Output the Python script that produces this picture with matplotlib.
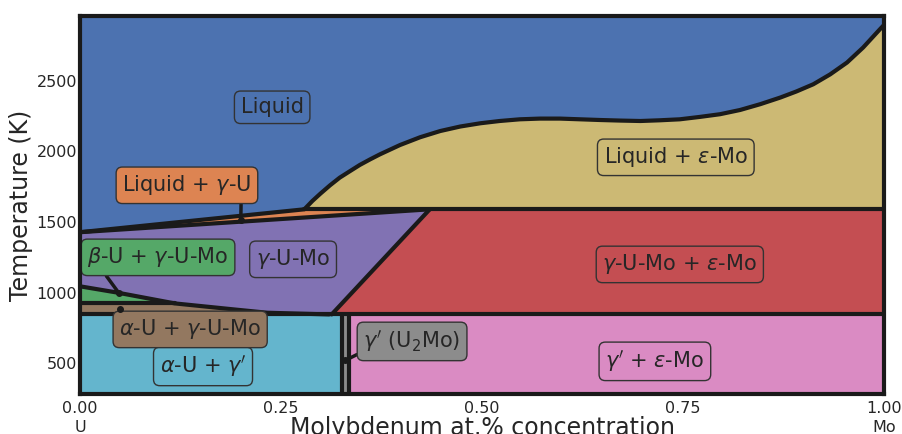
import matplotlib
matplotlib.use("Agg")
import matplotlib.pyplot as plt

# ---------------- data ----------------
# liquidus (Liquid / Liquid + eps-Mo) curve
liq_x = [0.279, 0.289, 0.299, 0.311, 0.323, 0.336, 0.348, 0.361, 0.373, 0.398,
         0.423, 0.448, 0.473, 0.498, 0.522, 0.547, 0.572, 0.597, 0.622, 0.647,
         0.672, 0.697, 0.721, 0.746, 0.771, 0.796, 0.821, 0.846, 0.871, 0.891,
         0.912, 0.933, 0.954, 0.974, 0.995, 1.0]
liq_T = [1590, 1649, 1701, 1760, 1814, 1861, 1904, 1944, 1979, 2045,
         2100, 2144, 2176, 2199, 2215, 2227, 2232, 2232, 2227, 2222,
         2218, 2215, 2220, 2227, 2244, 2263, 2293, 2334, 2381, 2424,
         2475, 2545, 2629, 2735, 2865, 2895]

T_melt_U = 1428          # U melting (left edge)
T_peritectic = 1590      # horizontal line
x_liq_left = 0.279       # end of Liquid + gamma-U liquidus
x_sol_right = 0.435      # end of solidus
T_eutectoid = 846
x_eutectoid_gamma = 0.313
# lower gamma boundary (beta/alpha + gamma)
gl_x = [0.0, 0.045, 0.118, 0.194, 0.233, 0.31]
gl_T = [1045, 1002, 924, 880, 858, 846]
T_beta_alpha = 924
x_beta_end = 0.118
# gamma' (U2Mo) strip
g1_left, g1_right = 0.326, 0.335

T_min, T_max = 283, 2958

xticks = [0.0, 0.25, 0.5, 0.75, 1.0]
xticklabels = ["0.00", "0.25", "0.50", "0.75", "1.00"]
yticks = [500, 1000, 1500, 2000, 2500]

C = dict(liquid="#4C72B0", tan="#CCB974", orange="#DD8452", green="#55A868",
         red="#C44E52", purple="#8172B3", brown="#937860", pink="#DA8BC3",
         gray="#8C8C8C", cyan="#64B5CD")
LINE = "#1a1a1a"
TXT = "#262626"

fig = plt.figure(figsize=(9.03, 4.34), dpi=100)
ax = fig.add_axes([0.0886, 0.0922, 0.8904, 0.8709])
ax.set_xlim(0, 1)
ax.set_ylim(T_min, T_max)
ax.set_facecolor(C["liquid"])

# ---------------- regions ----------------
ax.fill(liq_x + [1.0, x_liq_left], liq_T + [T_peritectic, T_peritectic],
        color=C["tan"], lw=0)
ax.fill([0, x_liq_left, x_sol_right], [T_melt_U, T_peritectic, T_peritectic],
        color=C["orange"], lw=0)
gx = [0, x_sol_right, x_eutectoid_gamma] + gl_x[::-1]
gT = [T_melt_U, T_peritectic, T_eutectoid] + gl_T[::-1]
ax.fill(gx, gT, color=C["purple"], lw=0)
ax.fill([x_sol_right, 1, 1, x_eutectoid_gamma],
        [T_peritectic, T_peritectic, T_eutectoid, T_eutectoid],
        color=C["red"], lw=0)
ax.fill([0, gl_x[1], x_beta_end, 0], [gl_T[0], gl_T[1], T_beta_alpha, T_beta_alpha],
        color=C["green"], lw=0)
ax.fill([0, x_beta_end] + gl_x[3:] + [0],
        [T_beta_alpha, T_beta_alpha] + gl_T[3:] + [T_eutectoid],
        color=C["brown"], lw=0)
ax.fill([0, g1_left, g1_left, 0], [T_min, T_min, T_eutectoid, T_eutectoid],
        color=C["cyan"], lw=0)
ax.fill([g1_left, g1_right, g1_right, g1_left], [T_min, T_min, T_eutectoid, T_eutectoid],
        color=C["gray"], lw=0)
ax.fill([g1_right, 1, 1, g1_right], [T_min, T_min, T_eutectoid, T_eutectoid],
        color=C["pink"], lw=0)

# ---------------- boundaries ----------------
lw = 3
kw = dict(color=LINE, lw=lw, solid_capstyle="round", solid_joinstyle="round")
ax.plot([0] + liq_x, [T_melt_U] + liq_T, **kw)
ax.plot([0, x_sol_right], [T_melt_U, T_peritectic], **kw)
ax.plot([x_liq_left, 1], [T_peritectic, T_peritectic], **kw)
ax.plot([x_sol_right, x_eutectoid_gamma], [T_peritectic, T_eutectoid], **kw)
ax.plot(gl_x, gl_T, **kw)
ax.plot([0, x_beta_end], [T_beta_alpha, T_beta_alpha], **kw)
ax.plot([0, 1], [T_eutectoid, T_eutectoid], **kw)
ax.plot([g1_left, g1_left], [T_min, T_eutectoid], **kw)
ax.plot([g1_right, g1_right], [T_min, T_eutectoid], **kw)

# ---------------- labels ----------------
def box(fc):
    return dict(boxstyle="round,pad=0.3", fc=fc, ec="#333333", lw=1.0)

fs = 15
plain = [
    ("Liquid", 0.239, 2312, C["liquid"]),
    ("Liquid + $\\varepsilon$-Mo", 0.741, 1958, C["tan"]),
    ("$\\gamma$-U-Mo", 0.265, 1236, C["purple"]),
    ("$\\gamma$-U-Mo + $\\varepsilon$-Mo", 0.746, 1200, C["red"]),
    ("$\\alpha$-U + $\\gamma'$", 0.153, 478, C["cyan"]),
    ("$\\gamma'$ + $\\varepsilon$-Mo", 0.715, 514, C["pink"]),
]
for s, x, y, fc in plain:
    ax.text(x, y, s, ha="center", va="center", fontsize=fs, color=TXT,
            bbox=box(fc), zorder=5)

arrows = [
    ("Liquid + $\\gamma$-U", 0.133, 1760, 0.2, 1515, C["orange"], (0.92, 0.0)),
    ("$\\beta$-U + $\\gamma$-U-Mo", 0.097, 1250, 0.048, 1000, C["green"], (0.1, 0.0)),
    ("$\\alpha$-U + $\\gamma$-U-Mo", 0.137, 740, 0.05, 885, C["brown"], (0.045, 1.0)),
    ("$\\gamma'$ (U$_2$Mo)", 0.413, 655, 0.33, 521, C["gray"], (0.0, 0.12)),
]
for s, tx, ty, px, py, fc, rp in arrows:
    ax.annotate(s, xy=(px, py), xytext=(tx, ty), ha="center", va="center",
                fontsize=fs, color=TXT, bbox=box(fc), zorder=5,
                arrowprops=dict(arrowstyle="-", lw=2.5, color=LINE,
                                shrinkA=0, shrinkB=0, relpos=rp))
    ax.plot(px, py, "o", ms=4, color=LINE, zorder=6)

# ---------------- axes ----------------
for sp in ax.spines.values():
    sp.set_linewidth(3)
    sp.set_color(LINE)
    sp.set_zorder(10)
ax.set_xticks(xticks)
ax.set_xticklabels(xticklabels)
ax.set_yticks(yticks)
ax.tick_params(axis="x", length=0, labelsize=11.5, labelcolor=TXT, pad=5)
ax.tick_params(axis="y", length=0, labelsize=11.5, labelcolor=TXT, pad=2)
ax.set_xlabel("Molybdenum at.% concentration", fontsize=17, color=TXT, labelpad=0)
ax.set_ylabel("Temperature (K)", fontsize=17, color=TXT)
ax.yaxis.set_label_coords(-0.059, 0.5)
ax.text(0.0, -0.068, "U", transform=ax.transAxes, ha="center", va="top",
        fontsize=11.5, color=TXT)
ax.text(1.0, -0.068, "Mo", transform=ax.transAxes, ha="center", va="top",
        fontsize=11.5, color=TXT)

fig.savefig("out.png", dpi=100)
